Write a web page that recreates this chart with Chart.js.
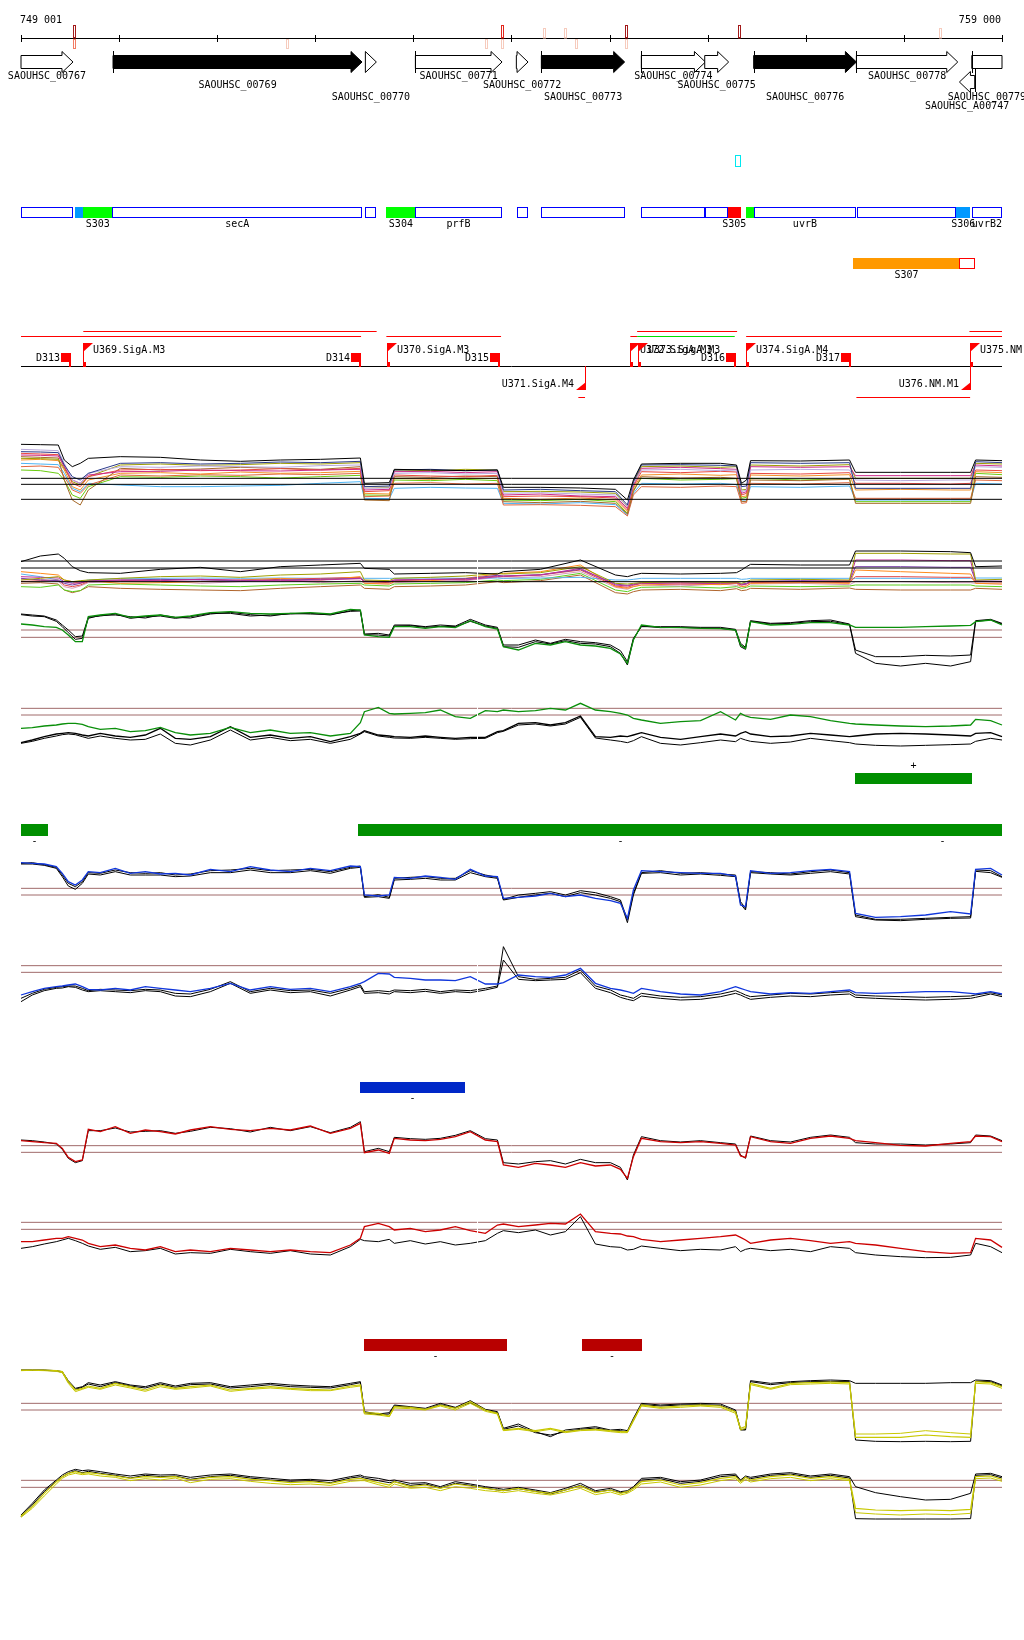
<!DOCTYPE html>
<html>
<head>
<meta charset="utf-8">
<title>749 001 - 759 000</title>
<script src="https://cdn.jsdelivr.net/npm/chart.js@4.4.1/dist/chart.umd.min.js"></script>
<style>
  html, body { margin: 0; padding: 0; background: #fff; }
  body { position: relative; width: 1024px; height: 1640px; overflow: hidden; }
  canvas { position: absolute; left: 0; }
</style>
</head>
<body>
<canvas id="annot" width="1024" height="410" style="top:0px"></canvas>
<canvas id="t4" width="1024" height="100" style="top:420px"></canvas>
<canvas id="t56" width="1024" height="150" style="top:530px"></canvas>
<canvas id="t7" width="1024" height="165" style="top:680px"></canvas>
<canvas id="t89" width="1024" height="165" style="top:845px"></canvas>
<canvas id="t1011" width="1024" height="210" style="top:1060px"></canvas>
<canvas id="t1213" width="1024" height="205" style="top:1320px"></canvas>
<script>
const START = 749001;
const END = 759000;

// ruler
const rulerTicks = [749001, 750000, 751000, 752000, 753000, 754000, 755000, 756000, 757000, 758000, 759000];
const rulerLabels = ['749 001', '759 000'];

// variant markers on the ruler (strength above / below the axis)
const markerPos  = [749551, 751721, 753749, 753918, 754339, 754557, 754669, 755179, 756327, 758383];
const markerUp   = ['strong', '', '', 'medium', 'faint', 'faint', '', 'strong', 'strong', 'faint'];
const markerDown = ['medium', 'faint', 'faint', 'faint', '', '', 'faint', 'faint', '', ''];

// genes
const geneNames = ['SAOUHSC_00767', 'SAOUHSC_00769', 'SAOUHSC_00770', 'SAOUHSC_00771', 'SAOUHSC_00772', 'SAOUHSC_00773',
                   'SAOUHSC_00774', 'SAOUHSC_00775', 'SAOUHSC_00776', 'SAOUHSC_00778', 'SAOUHSC_00779', 'SAOUHSC_A00747'];
const geneStart = [749001, 749939, 752511, 753021, 754050, 754305, 755324, 755970, 756469, 757516, 758692, 758566];
const geneEnd   = [749531, 752477, 752623, 753904, 754169, 755154, 755977, 756214, 757516, 758549, 759000, 758722];
const geneStrand = [1, 1, 1, 1, 1, 1, 1, 1, 1, 1, 1, -1];
const geneEssential = [false, true, false, false, false, true, false, false, true, false, false, false];
const geneStartMark = [false, true, false, true, false, true, true, false, true, true, true, true];
const geneLabelRow = [0, 1, 2, 0, 1, 2, 0, 1, 2, 0, 2, 3];

// annotated features
const featStart = [749001, 749554, 749633, 749932, 752511, 752725, 753021, 754053, 754305, 755324, 755977, 756204, 756388, 756469, 757519, 758535, 758692];
const featEnd   = [749531, 749633, 749932, 752477, 752620, 753021, 753900, 754169, 755154, 755977, 756204, 756337, 756469, 757513, 758535, 758675, 759000];
const featType  = ['cds', 'srnaB', 'srna', 'cds', 'cds', 'srna', 'cds', 'cds', 'cds', 'cds', 'cds', 'srnaR', 'srna', 'cds', 'cds', 'srnaB', 'cds'];
const featLabel = ['', '', 'S303', 'secA', '', 'S304', 'prfB', '', '', '', '', 'S305', '', 'uvrB', '', 'S306', 'uvrB2'];
const smallMark = [756276, 756334];
const longFeat  = [757486, 758566, 758729];
const longLabel = 'S307';

// transcription units, terminators, promoters
const transcriptStart = [749001, 752725, 755212, 756392, 749636, 755281, 758668, 754682, 757516, 755281];
const transcriptEnd   = [752467, 753894, 755281, 759000, 752626, 756300, 759000, 754750, 758675, 756276];
const transcriptRow   = [0, 0, 0, 0, 1, 1, 1, 2, 2, 0];
const transcriptKind  = ['main', 'main', 'main', 'main', 'main', 'main', 'main', 'main', 'main', 'alt'];
const termNames = ['D313', 'D314', 'D315', 'D316', 'D317'];
const termPos   = [749508, 752467, 753887, 756290, 757465];
const promNames = ['U369.SigA.M3', 'U370.SigA.M3', 'U371.SigA.M4', 'U372.SigA.M3', 'U373.SigA.M3', 'U374.SigA.M4', 'U375.NM.M1', 'U376.NM.M1'];
const promPos   = [749636, 752728, 754746, 755212, 755286, 756395, 758671, 758671];
const promStrand = [1, 1, -1, 1, 1, 1, 1, -1];

// segments called in the profiles
const greenBarStart  = [757498, 749001, 752439, 757791];
const greenBarEnd    = [758694, 749273, 757791, 759000];
const greenBarStrand = ['+', '-', '-', '-'];
const blueBarStart = [752454], blueBarEnd = [753531], blueBarStrand = ['-'];
const redBarStart = [752501, 754723], redBarEnd = [753958, 755334], redBarStrand = ['-', '-'];
const gapPos = 753652;

// probe positions of the profiles
const positions = [749001, 749116, 749238, 749361, 749422, 749483, 749555, 749626, 749687, 749809,
  749962, 750115, 750268, 750421, 750574, 750727, 750931, 751135, 751338, 751542,
  751746, 751950, 752154, 752358, 752460, 752501, 752643, 752755, 752806, 752969,
  753122, 753275, 753428, 753581, 753734, 753857, 753918, 754071, 754244, 754397,
  754550, 754703, 754856, 755009, 755111, 755182, 755243, 755325, 755519, 755723,
  755927, 756131, 756284, 756335, 756386, 756437, 756641, 756844, 757048, 757252,
  757446, 757507, 757711, 757966, 758221, 758476, 758680, 758731, 758884, 759000];
const multiPositions = [749001, 749198, 749381, 749442, 749524, 749605, 749687, 750013, 750421, 750829,
  751237, 751644, 752052, 752460, 752501, 752755, 752806, 753173, 753530, 753857,
  753918, 754295, 754703, 755060, 755182, 755243, 755325, 755723, 756131, 756294,
  756345, 756396, 756437, 756947, 757446, 757507, 757966, 758476, 758680, 758731, 759000];

// track 4: many conditions
const t4Ref = [125, 107, 62];
const t4Top = [227,226,225,180,160,170,185,190,188,180,176,180,182,186,110,112,152,150,148,150,98,98,96,92,60,120,168,170,170,165,110,120,178,177,180,143,143,143,143,180,178];
const t4Lavender = [212,210,208,170,120,110,140,160,158,162,160,158,163,165,95,96,140,142,138,140,80,82,78,75,40,110,150,152,148,150,85,90,150,152,150,120,118,120,120,160,158];
const t4Red = [200,198,196,160,110,100,130,150,152,148,150,154,150,155,85,88,135,132,130,134,70,72,70,66,30,100,145,142,146,144,75,80,140,138,142,110,110,108,110,150,148];
const t4Orange = [180,182,178,150,100,90,120,140,142,138,144,140,142,146,80,78,125,122,126,124,65,62,66,60,25,95,135,138,134,136,70,72,135,132,136,90,92,90,90,145,142];
const t4Green = [150,148,140,120,75,65,100,130,128,132,130,126,130,134,75,74,120,118,122,118,60,58,62,55,20,90,125,120,122,124,65,68,125,120,124,55,55,55,55,140,136];
const t4Sky = [170,168,166,140,95,85,110,105,100,100,102,104,110,115,65,64,95,98,96,95,50,48,52,46,15,80,110,108,110,106,60,60,100,98,102,60,60,60,60,110,108];
const t4Brown = [190,188,186,120,60,45,90,155,150,153,158,155,152,160,60,58,130,128,132,130,55,52,56,50,18,85,130,126,128,125,55,56,120,118,122,50,50,50,50,130,128];
const t4Magenta = [195,194,192,160,120,110,135,145,146,150,148,147,150,152,90,92,145,146,142,145,75,78,72,70,35,105,155,158,154,152,80,85,160,158,160,133,133,133,133,165,162];
const t4Olive = [185,184,182,155,115,105,130,165,168,164,166,170,168,172,100,98,150,148,152,150,85,86,84,80,40,110,160,162,158,160,90,92,165,162,166,125,125,125,125,170,168];
const t4Tomato = [160,162,158,130,90,80,105,135,132,136,134,138,136,140,70,72,110,112,108,110,45,46,44,40,12,75,100,98,102,100,50,52,110,108,112,65,65,65,65,120,118];
const t4Navy = [205,204,202,165,130,120,140,170,172,168,170,174,172,176,100,102,150,152,148,150,90,92,88,85,45,115,165,166,164,162,100,102,172,170,172,95,95,95,95,175,172];

// track 5: many conditions, second strand
const t5Ref = [357, 336, 295];
const t5Top = [355,372,378,365,340,328,322,320,332,338,325,340,345,350,335,332,318,320,322,318,325,332,360,315,310,315,320,318,320,322,330,340,347,345,345,387,387,385,382,340,342];
const t5Olive = [300,305,310,300,295,298,300,305,310,312,308,315,318,325,300,298,305,308,312,320,318,322,340,290,288,290,292,295,292,294,290,295,300,302,300,380,380,378,378,300,302];
const t5Magenta = [310,308,306,295,290,292,296,300,298,302,300,298,300,304,295,295,300,302,300,310,312,315,335,285,282,286,290,288,290,292,285,288,295,296,298,360,360,358,358,295,296];
const t5Orange = [325,320,315,300,295,290,298,290,292,295,300,305,300,310,290,288,295,298,305,318,320,325,345,280,275,280,285,288,286,290,280,282,290,292,290,330,325,320,318,290,288];
const t5Sky = [318,310,300,295,292,295,300,305,305,306,305,306,305,306,305,305,305,306,305,306,305,306,308,300,300,302,305,305,305,305,302,303,305,305,305,305,305,305,305,306,306];
const t5Green = [280,278,285,270,265,268,285,288,285,282,280,285,288,290,285,282,288,290,292,300,298,302,320,270,265,272,278,280,276,280,275,278,282,280,282,285,285,285,285,282,280];
const t5Brown = [290,292,288,270,262,268,280,275,272,270,268,275,280,285,275,272,280,282,285,295,292,298,315,262,258,265,270,272,268,274,268,270,275,272,276,272,270,270,270,275,272];
const t5Pink = [300,302,296,280,275,282,292,295,298,290,295,300,292,298,290,288,292,296,298,308,305,310,325,278,272,280,285,282,288,284,280,282,288,290,286,295,295,292,292,290,288];
const t5Red = [295,298,300,285,280,285,295,298,300,302,298,302,305,308,295,292,298,300,302,312,310,315,330,282,278,284,290,292,288,290,285,288,292,294,292,310,310,308,308,295,294];
const t5Purple = [305,300,298,290,285,290,298,300,302,300,298,300,302,305,298,295,300,302,304,314,312,316,332,288,284,288,292,294,292,292,288,290,296,298,296,340,340,338,338,298,296];

// track 6 / 7: green pair
const t6Ref = [150, 128];
const green6 = [168,165,160,158,150,135,115,115,190,195,200,188,192,195,188,192,202,205,200,198,200,202,198,212,210,135,130,128,160,160,155,160,157,178,160,153,100,90,110,105,115,105,102,95,78,50,120,165,158,157,155,154,150,105,95,175,165,167,172,172,165,158,158,158,160,162,164,175,180,165];
const black6a = [198,195,192,180,165,150,130,132,188,192,198,185,190,192,185,190,200,200,192,195,198,200,195,208,210,138,140,135,165,165,160,165,162,182,165,158,105,105,120,110,122,115,112,105,88,55,125,160,160,160,158,158,152,110,98,178,170,172,178,180,168,90,70,70,74,72,75,178,182,170];
const black6b = [196,192,190,176,160,142,122,125,185,194,195,190,186,195,188,186,198,203,196,192,200,198,197,206,207,136,135,132,162,163,158,161,160,176,162,155,100,98,115,108,118,110,108,100,80,45,122,162,157,158,156,155,150,100,92,176,168,170,175,176,166,80,50,42,50,42,55,176,180,168];
const t7Ref = [395, 375];
const green7 = [335,337,342,345,348,350,350,347,340,332,335,325,328,338,322,315,320,338,322,330,320,322,312,320,352,385,398,380,378,380,382,390,370,365,388,385,390,385,388,395,390,410,390,385,380,375,365,360,350,355,358,385,360,380,372,368,362,375,370,358,350,348,345,342,340,342,345,362,358,345];
const black7a = [292,300,310,318,320,322,320,315,312,320,312,308,315,335,305,302,310,340,308,315,305,310,295,310,320,328,315,312,310,308,312,308,305,308,308,325,328,350,352,345,352,372,310,308,312,310,315,322,308,302,310,318,312,320,325,318,310,312,320,315,310,312,318,320,318,315,312,320,322,310];
const black7b = [290,296,305,312,316,318,316,310,305,312,305,300,302,318,290,285,300,330,300,308,298,302,290,302,318,325,312,308,306,305,308,305,302,304,305,322,326,345,348,342,348,368,306,300,296,292,298,310,290,285,292,300,295,305,300,296,290,294,305,298,292,288,284,282,284,286,288,296,305,300];

// track 8 / 9: blue pair
const t8Ref = [365, 345];
const blue8 = [442,440,438,430,410,385,375,390,415,412,425,410,415,408,410,405,422,415,430,420,415,425,418,432,430,345,342,345,398,395,402,398,392,422,402,400,335,338,342,350,340,345,335,328,320,275,360,418,415,412,410,410,402,315,310,418,410,412,418,422,415,290,278,280,285,295,288,422,425,405];
const black8a = [440,442,436,428,405,380,370,385,412,410,420,412,410,412,405,408,418,420,425,418,420,422,415,428,432,340,346,338,395,398,400,395,395,418,405,398,332,345,350,355,345,358,352,340,330,270,350,412,418,410,412,408,405,325,305,415,412,408,415,420,412,285,272,272,275,278,280,420,418,400];
const black8b = [438,438,434,425,400,372,362,380,408,405,415,405,405,405,400,402,412,412,420,412,412,418,410,425,428,338,340,335,390,392,395,390,390,412,400,395,330,338,345,350,340,352,345,335,325,262,345,410,412,405,408,404,400,318,300,412,408,405,410,415,408,280,270,268,272,275,276,416,412,398];
const t9Ref = [133, 113];
const blue9 = [45,55,65,70,72,75,78,70,62,60,65,60,70,65,60,55,65,80,60,70,62,65,55,70,80,85,110,108,98,95,90,90,88,100,78,78,82,105,100,98,105,125,80,65,60,55,50,65,55,48,45,55,70,65,60,55,48,52,50,55,60,52,50,52,55,55,50,48,55,48];
const black9a = [35,50,62,68,70,72,72,65,58,62,60,58,62,60,50,48,62,85,55,65,58,60,50,65,75,55,58,55,60,58,62,55,60,58,65,72,190,100,92,95,98,120,72,60,45,40,35,50,42,38,40,48,58,52,45,40,45,50,48,52,55,45,42,40,38,40,42,45,52,45];
const black9b = [25,45,58,65,66,70,68,60,55,58,55,52,58,55,42,40,55,80,50,60,52,55,42,60,70,50,52,48,55,52,56,50,55,52,60,68,150,92,88,90,92,112,65,52,38,32,28,42,35,30,32,40,50,45,38,32,38,42,40,45,48,38,35,32,30,32,35,38,48,40];

// track 10 / 11: red pair
const t10Ref = [373, 353];
const red10 = [388,385,382,380,365,338,325,330,422,415,430,410,420,415,408,420,430,422,418,425,420,432,410,425,440,352,360,350,395,390,388,392,400,415,390,385,315,308,320,315,308,322,312,315,302,275,340,395,385,382,385,380,375,342,338,400,385,380,395,402,395,388,382,374,372,380,385,402,400,385];
const black10 = [390,388,384,378,362,335,322,328,418,418,426,414,416,418,410,416,428,424,414,428,418,430,412,428,445,355,365,355,398,394,392,395,404,418,394,390,322,318,325,328,318,332,322,322,308,270,345,400,388,384,388,382,378,345,335,402,388,384,398,405,398,382,378,378,375,378,382,405,402,388];
const t11Ref = [143, 122];
const red11 = [85,85,90,95,95,100,95,90,80,70,75,65,60,70,55,60,55,65,60,55,60,55,52,75,95,130,140,130,120,125,115,120,130,118,110,135,138,130,135,140,138,168,115,110,108,102,100,92,85,90,95,100,105,98,90,80,90,95,88,80,85,80,75,65,55,50,52,95,90,68];
const black11 = [65,70,78,85,90,95,88,80,72,62,68,55,58,65,48,52,50,62,55,50,58,48,45,70,92,88,85,92,80,88,78,85,75,80,88,110,118,112,120,105,115,160,78,70,68,60,62,72,65,58,62,60,70,55,62,65,58,62,55,70,65,52,45,40,37,38,45,80,70,52];

// track 12 / 13: yellow pair
const t12Ref = [350, 330];
const yellow12a = [450,450,450,448,445,415,390,395,402,395,410,400,390,405,395,400,405,390,395,400,395,392,390,402,405,322,320,312,340,338,332,345,335,355,330,320,270,275,268,275,265,270,272,268,265,265,300,345,338,342,345,342,325,275,280,410,395,410,412,414,412,248,248,248,255,250,248,415,412,400];
const yellow12b = [448,449,448,446,442,410,385,392,398,392,405,396,386,400,392,396,402,386,392,396,392,388,388,398,402,318,315,310,336,334,330,342,330,350,326,318,268,272,265,272,262,268,270,265,262,262,296,342,335,338,342,338,320,270,275,406,392,406,408,410,408,258,258,260,268,262,258,410,408,395];
const black12a = [450,450,450,448,445,418,395,400,412,405,415,405,400,412,402,410,412,400,405,410,405,402,400,410,415,325,318,322,345,340,335,350,338,358,332,325,275,288,265,250,270,275,280,270,272,268,305,350,345,348,350,348,330,272,272,418,410,415,418,420,418,410,410,410,410,412,412,420,418,405];
const black12b = [449,449,449,447,443,414,392,398,408,400,412,402,396,408,398,406,408,396,400,406,400,398,396,406,412,322,316,318,342,338,332,346,336,352,330,322,272,282,262,255,265,272,276,268,268,264,300,346,342,345,346,344,326,270,270,415,406,412,415,416,415,240,236,235,236,235,236,416,415,402];
const t13Ref = [119, 98];
const yellow13a = [12,40,80,115,130,140,145,140,142,138,132,125,130,128,130,120,128,130,122,118,112,115,110,122,125,122,112,105,115,100,105,95,108,102,95,90,88,95,85,80,90,102,82,90,80,85,95,115,120,105,112,125,130,115,128,120,130,135,125,130,122,35,30,28,30,28,32,130,132,122];
const yellow13b = [8,35,72,108,125,135,140,136,138,132,128,118,124,120,126,112,122,124,116,110,106,108,104,116,118,118,106,98,108,95,98,88,100,95,88,85,82,88,80,75,84,95,76,84,75,80,90,108,114,98,105,118,124,110,122,114,124,128,118,124,118,22,18,15,18,16,20,124,126,116];
const black13a = [15,50,90,120,135,145,152,148,150,145,138,132,138,135,136,128,135,138,130,125,120,122,118,130,135,130,125,118,120,110,112,100,115,108,100,95,92,98,90,82,95,110,88,95,85,88,100,125,128,115,120,135,138,120,132,128,138,142,132,138,130,100,82,70,60,62,80,138,140,130];
const black13b = [10,45,85,116,130,140,148,142,146,140,134,126,134,130,132,122,130,134,126,120,116,118,112,126,130,126,118,112,115,104,108,96,110,104,96,90,88,94,86,78,90,104,84,90,82,84,96,120,124,110,116,130,134,116,128,124,134,138,128,134,126,4,3,3,3,3,4,134,136,126];

const FONT = '10px "DejaVu Sans Mono", "Liberation Mono", monospace';
const BROWN = '#a06a6a';

function series(xs, values, color, width) {
  return {
    data: xs.map((p, i) => ({ x: p, y: values[i] })),
    borderColor: color, borderWidth: width || 1,
    pointRadius: 0, tension: 0, fill: false, clip: false
  };
}
function level(v, color) {
  return {
    data: [{ x: START, y: v }, { x: END, y: v }],
    borderColor: color, borderWidth: 1, pointRadius: 0, fill: false, clip: false
  };
}

function drawAnnotations(chart) {
  const ctx = chart.ctx;
  const X = v => chart.scales.x.getPixelForValue(v);
  const snap = v => Math.round(v) + 0.5;
  ctx.save();
  ctx.font = FONT;
  ctx.textBaseline = 'middle';
  ctx.lineWidth = 1;

  // ruler
  ctx.strokeStyle = '#000';
  ctx.beginPath(); ctx.moveTo(X(START), 38.5); ctx.lineTo(X(END), 38.5); ctx.stroke();
  rulerTicks.forEach(t => {
    const x = snap(X(t));
    ctx.beginPath(); ctx.moveTo(x, 35); ctx.lineTo(x, 42); ctx.stroke();
  });
  ctx.fillStyle = '#000';
  ctx.textAlign = 'left'; ctx.fillText(rulerLabels[0], X(START) - 1, 20);
  ctx.textAlign = 'right'; ctx.fillText(rulerLabels[1], X(END) - 1, 20);

  const upColor = { strong: '#a31a1a', medium: '#e2261c', faint: '#f6cbbd' };
  const downColor = { medium: '#f27c64', faint: '#f6cbbd' };
  markerPos.forEach((p, i) => {
    const x = Math.round(X(p)) - 1.5;
    if (markerUp[i]) {
      ctx.strokeStyle = upColor[markerUp[i]];
      const top = markerUp[i] === 'faint' ? 28.5 : 25.5;
      ctx.strokeRect(x, top, 2, 38 - top);
    }
    if (markerDown[i]) {
      ctx.strokeStyle = downColor[markerDown[i]];
      ctx.strokeRect(x, 39.5, 2, 9);
    }
  });

  // genes
  const rowY = [76, 85, 97.5, 106];
  geneStart.forEach((s, i) => {
    const x0 = X(s), x1 = X(geneEnd[i]);
    const fwd = geneStrand[i] > 0;
    const cy = fwd ? 62 : 82;
    const t = cy - 6.5, b = cy + 6.5, ht = cy - 10.5, hb = cy + 10.5;
    ctx.beginPath();
    if (geneEnd[i] >= END) {
      ctx.rect(x0, t, x1 - x0, b - t);
    } else if (fwd) {
      const hs = Math.max(x0, x1 - 11);
      if (hs > x0) { ctx.moveTo(x0, t); ctx.lineTo(hs, t); ctx.lineTo(hs, ht); }
      else ctx.moveTo(hs, ht);
      ctx.lineTo(x1, cy); ctx.lineTo(hs, hb);
      if (hs > x0) { ctx.lineTo(hs, b); ctx.lineTo(x0, b); }
      ctx.closePath();
    } else {
      const he = Math.min(x1, x0 + 11);
      ctx.moveTo(x1, t); ctx.lineTo(he, t); ctx.lineTo(he, ht); ctx.lineTo(x0, cy);
      ctx.lineTo(he, hb); ctx.lineTo(he, b); ctx.lineTo(x1, b); ctx.closePath();
    }
    ctx.fillStyle = geneEssential[i] ? '#000' : '#fff';
    ctx.fill();
    ctx.strokeStyle = '#000';
    ctx.stroke();
    if (geneStartMark[i]) {
      const xs = snap(fwd ? x0 : x1);
      ctx.beginPath();
      ctx.moveTo(xs, fwd ? 51 : 68); ctx.lineTo(xs, fwd ? 73 : 92); ctx.stroke();
    }
    ctx.fillStyle = '#000';
    ctx.textAlign = 'center';
    ctx.fillText(geneNames[i], (x0 + x1) / 2, rowY[geneLabelRow[i]]);
  });

  // small cyan mark
  ctx.strokeStyle = '#00e8f0';
  ctx.strokeRect(Math.round(X(smallMark[0])) + 0.5, 155.5, Math.round(X(smallMark[1]) - X(smallMark[0])) - 1, 11);

  // features
  const featFill = { srna: '#00ff00', srnaB: '#0099ff', srnaR: '#ff0000' };
  featStart.forEach((s, i) => {
    const x0 = Math.round(X(s)), x1 = Math.round(X(featEnd[i]));
    if (featType[i] === 'cds') {
      ctx.fillStyle = '#fff';
      ctx.fillRect(x0, 207, x1 - x0, 11);
      ctx.strokeStyle = '#0000ff';
      ctx.strokeRect(x0 + 0.5, 207.5, x1 - x0 - 1, 10);
    } else {
      ctx.fillStyle = featFill[featType[i]];
      ctx.fillRect(x0, 207, x1 - x0, 11);
    }
  });
  ctx.fillStyle = '#000';
  ctx.textAlign = 'center';
  featStart.forEach((s, i) => {
    if (featLabel[i]) ctx.fillText(featLabel[i], (X(s) + X(featEnd[i])) / 2, 224);
  });
  ctx.fillStyle = '#ff9900';
  ctx.fillRect(Math.round(X(longFeat[0])), 258, Math.round(X(longFeat[1]) - X(longFeat[0])), 11);
  ctx.strokeStyle = '#ff0000';
  ctx.strokeRect(Math.round(X(longFeat[1])) + 0.5, 258.5, Math.round(X(longFeat[2]) - X(longFeat[1])) - 1, 10);
  ctx.fillStyle = '#000';
  ctx.fillText(longLabel, (X(longFeat[0]) + X(longFeat[1])) / 2, 275);

  // transcription units
  const lineY = [336.5, 331.5, 397.5];
  transcriptStart.forEach((s, i) => {
    ctx.strokeStyle = transcriptKind[i] === 'alt' ? '#00e000' : '#ff0000';
    ctx.beginPath();
    ctx.moveTo(X(s), lineY[transcriptRow[i]]);
    ctx.lineTo(X(transcriptEnd[i]), lineY[transcriptRow[i]]);
    ctx.stroke();
  });
  ctx.strokeStyle = '#000';
  ctx.beginPath(); ctx.moveTo(X(START), 366.5); ctx.lineTo(X(END), 366.5); ctx.stroke();

  termPos.forEach((p, i) => {
    const x = Math.round(X(p));
    ctx.fillStyle = '#ff0000';
    ctx.fillRect(x - 10, 353, 10, 9);
    ctx.fillRect(x - 2, 353, 2, 14);
    ctx.fillStyle = '#000';
    ctx.textAlign = 'right';
    ctx.fillText(termNames[i], x - 11, 358);
  });

  promPos.forEach((p, i) => {
    const x = Math.round(X(p));
    ctx.fillStyle = '#ff0000';
    ctx.beginPath();
    if (promStrand[i] > 0) {
      ctx.fillRect(x, 343, 1, 24);
      ctx.fillRect(x, 362, 3, 5);
      ctx.moveTo(x, 343); ctx.lineTo(x + 10, 343); ctx.lineTo(x, 352); ctx.closePath(); ctx.fill();
      ctx.fillStyle = '#000';
      ctx.textAlign = 'left';
      ctx.fillText(promNames[i], x + 10, 350.5);
    } else {
      ctx.fillRect(x, 366, 1, 24);
      ctx.moveTo(x + 1, 390); ctx.lineTo(x - 9, 390); ctx.lineTo(x + 1, 382); ctx.closePath(); ctx.fill();
      ctx.fillStyle = '#000';
      ctx.textAlign = 'right';
      ctx.fillText(promNames[i], x - 11, 384);
    }
  });
  ctx.restore();
}

function drawBars(chart, starts, ends, strands, color, top, bottom) {
  const ctx = chart.ctx;
  const X = v => chart.scales.x.getPixelForValue(v);
  ctx.save();
  ctx.font = FONT;
  ctx.textAlign = 'center';
  ctx.textBaseline = 'middle';
  starts.forEach((s, i) => {
    const plus = strands[i] === '+';
    const t = plus ? top[0] : top[1], b = plus ? bottom[0] : bottom[1];
    const x0 = Math.round(X(s)), x1 = Math.round(X(ends[i]));
    ctx.fillStyle = color;
    ctx.fillRect(x0, t, x1 - x0, b - t);
    ctx.fillStyle = '#000';
    ctx.fillText(strands[i], (x0 + x1) / 2, plus ? t - 7 : b + 5);
  });
  ctx.restore();
}

function drawGap(chart, bands) {
  const ctx = chart.ctx;
  const x = Math.round(chart.scales.x.getPixelForValue(gapPos));
  ctx.save();
  ctx.fillStyle = '#fff';
  bands.forEach(b => ctx.fillRect(x, b[0], 1, b[1] - b[0]));
  ctx.restore();
}

function makeChart(id, yMin, yMax, datasets, draw) {
  return new Chart(document.getElementById(id), {
    type: 'line',
    data: { datasets },
    options: {
      responsive: false,
      animation: false,
      devicePixelRatio: 1,
      layout: { padding: { left: 21, right: 22, top: 0, bottom: 0 } },
      scales: {
        x: { type: 'linear', min: START, max: END, display: false },
        y: { type: 'linear', min: yMin, max: yMax, display: false }
      },
      plugins: { legend: { display: false }, tooltip: { enabled: false } },
      elements: { point: { radius: 0 }, line: { tension: 0 } }
    },
    plugins: [{ id: 'extra_' + id, afterDatasetsDraw(chart) { if (draw) draw(chart); } }]
  });
}

makeChart('annot', 0, 410, [], drawAnnotations);

makeChart('t4', 0, 300, [
  ...t4Ref.map(v => level(v, '#000')),
  series(multiPositions, t4Top, '#000'),
  series(multiPositions, t4Navy, '#2a3a8a'),
  series(multiPositions, t4Lavender, '#b8a8dc'),
  series(multiPositions, t4Magenta, '#cc2a88'),
  series(multiPositions, t4Red, '#e84840'),
  series(multiPositions, t4Olive, '#9c9c00'),
  series(multiPositions, t4Brown, '#a66a2a'),
  series(multiPositions, t4Orange, '#f39228'),
  series(multiPositions, t4Tomato, '#e0663c'),
  series(multiPositions, t4Green, '#6acc10'),
  series(multiPositions, t4Sky, '#4cb4f4')
]);

makeChart('t56', 0, 450, [
  ...t5Ref.map(v => level(v, '#000')),
  series(multiPositions, t5Top, '#000'),
  series(multiPositions, t5Olive, '#a0a000'),
  series(multiPositions, t5Magenta, '#c0309a'),
  series(multiPositions, t5Purple, '#7a3fa8'),
  series(multiPositions, t5Orange, '#ff8a1c'),
  series(multiPositions, t5Red, '#e24848'),
  series(multiPositions, t5Sky, '#5ab4f0'),
  series(multiPositions, t5Pink, '#d49ab8'),
  series(multiPositions, t5Green, '#5ccf1e'),
  series(multiPositions, t5Brown, '#b0652c'),
  series(positions, green6, '#0a8f0a', 1.3),
  series(positions, black6a, '#000'),
  series(positions, black6b, '#000'),
  ...t6Ref.map(v => level(v, BROWN))
], chart => drawGap(chart, [[18, 68]]));

makeChart('t7', -15, 480, [
  series(positions, green7, '#0a8f0a', 1.3),
  series(positions, black7a, '#000', 1.3),
  series(positions, black7b, '#000'),
  ...t7Ref.map(v => level(v, BROWN))
], chart => {
  drawGap(chart, [[20, 72]]);
  drawBars(chart, greenBarStart, greenBarEnd, greenBarStrand, '#008f00', [93, 144], [104, 156]);
});

makeChart('t89', 0, 495, [
  series(positions, blue8, '#1036dc', 1.3),
  series(positions, black8a, '#000'),
  series(positions, black8b, '#000'),
  ...t8Ref.map(v => level(v, BROWN)),
  series(positions, blue9, '#1036dc', 1.3),
  series(positions, black9a, '#000'),
  series(positions, black9b, '#000'),
  ...t9Ref.map(v => level(v, BROWN))
], chart => drawGap(chart, [[115, 162]]));

makeChart('t1011', 0, 630, [
  series(positions, red10, '#cc0000', 1.3),
  series(positions, black10, '#000'),
  ...t10Ref.map(v => level(v, BROWN)),
  series(positions, red11, '#cc0000', 1.3),
  series(positions, black11, '#000'),
  ...t11Ref.map(v => level(v, BROWN))
], chart => {
  drawGap(chart, [[150, 208]]);
  drawBars(chart, blueBarStart, blueBarEnd, blueBarStrand, '#0028c8', [22, 22], [33, 33]);
});

makeChart('t1213', -15, 600, [
  series(positions, yellow12a, '#c8c800', 1.2),
  series(positions, yellow12b, '#c8c800'),
  series(positions, black12a, '#000'),
  series(positions, black12b, '#000'),
  ...t12Ref.map(v => level(v, BROWN)),
  series(positions, yellow13a, '#c8c800', 1.2),
  series(positions, yellow13b, '#c8c800'),
  series(positions, black13a, '#000'),
  series(positions, black13b, '#000'),
  ...t13Ref.map(v => level(v, BROWN))
], chart => {
  drawGap(chart, [[140, 200]]);
  drawBars(chart, redBarStart, redBarEnd, redBarStrand, '#b80000', [19, 19], [31, 31]);
});
</script>
</body>
</html>
